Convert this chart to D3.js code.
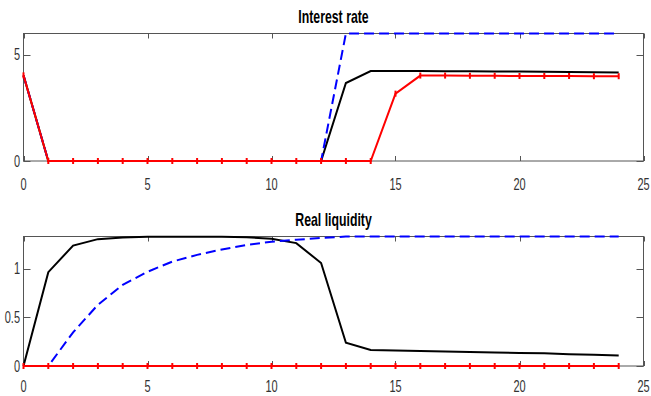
<!DOCTYPE html>
<html>
<head>
<meta charset="utf-8">
<script src="https://cdn.jsdelivr.net/npm/d3@7"></script>
<style>
  body { margin: 0; background: #fff; }
  text { font-family: "Liberation Sans Narrow", "Arial Narrow", "Liberation Sans", sans-serif; }
</style>
</head>
<body>
<svg class="chart" width="651" height="396"></svg>
<script>
const periods = d3.range(0, 25);

// Interest rate panel
const rateBlack = [4.03, 0, 0, 0, 0, 0, 0, 0, 0, 0, 0, 0, 0, 3.67, 4.23, 4.23, 4.23, 4.22, 4.22, 4.21, 4.21, 4.2, 4.19, 4.18, 4.17];
const rateBlue  = [4.03, 0, 0, 0, 0, 0, 0, 0, 0, 0, 0, 0, 0, 6, 6, 6, 6, 6, 6, 6, 6, 6, 6, 6, 6];
const rateRed   = [4.03, 0, 0, 0, 0, 0, 0, 0, 0, 0, 0, 0, 0, 0, 0, 3.17, 4.02, 4.02, 4.01, 4.01, 4.0, 4.0, 4.0, 3.99, 3.99];

// Real liquidity panel
const liqBlack = [0, 0.966, 1.24, 1.306, 1.323, 1.33, 1.332, 1.332, 1.33, 1.325, 1.31, 1.265, 1.06, 0.24, 0.165, 0.16, 0.155, 0.15, 0.145, 0.14, 0.135, 0.13, 0.122, 0.115, 0.108];
const liqBlue  = [0, 0, 0.347, 0.63, 0.835, 0.97, 1.075, 1.144, 1.2, 1.247, 1.28, 1.3, 1.318, 1.333, 1.333, 1.333, 1.333, 1.333, 1.333, 1.333, 1.333, 1.333, 1.333, 1.333, 1.333];
const liqRed   = [0, 0, 0, 0, 0, 0, 0, 0, 0, 0, 0, 0, 0, 0, 0, 0, 0, 0, 0, 0, 0, 0, 0, 0, 0];

const xTicks = [0, 5, 10, 15, 20, 25];

const panels = [
  {title: "Interest rate", top: 33.5, bottom: 161, domain: [0, 6], yTicks: [0, 5],
   black: rateBlack, blue: rateBlue, red: rateRed, titleY: 23, labelY: 190},
  {title: "Real liquidity", top: 236.5, bottom: 366, domain: [0, 1.3333], yTicks: [0, 0.5, 1],
   black: liqBlack, blue: liqBlue, red: liqRed, titleY: 226, labelY: 392}
];

const left = 23.5, right = 643.5;
const axisColor = "#555";
const svg = d3.select(".chart");

const x = d3.scaleLinear().domain([0, 25]).range([left, right]);

// stretched text, the picture is taller than wide
function label(g, px, py, str, anchor, opts) {
  const o = opts || {};
  return g.append('text')
    .attr('transform', `translate(${px},${py}) scale(1,${o.sy || 1.45})`)
    .attr('text-anchor', anchor)
    .style('font-size', (o.size || 11) + 'px')
    .style('font-weight', o.bold ? 'bold' : 'normal')
    .style('fill', o.fill || '#333')
    .text(str);
}

panels.forEach(p => {
  const g = svg.append('g');
  const y = d3.scaleLinear().domain(p.domain).range([p.bottom, p.top]);

  // box
  g.append('rect')
    .attr('x', left).attr('y', p.top)
    .attr('width', right - left).attr('height', p.bottom - p.top)
    .style('fill', 'none').style('stroke', axisColor).style('stroke-width', 1);

  // x ticks (inside, top and bottom)
  xTicks.forEach(t => {
    const px = Math.round(x(t)) + 0.5;
    g.append('line').attr('x1', px).attr('x2', px).attr('y1', p.bottom).attr('y2', p.bottom - 5)
      .style('stroke', axisColor);
    g.append('line').attr('x1', px).attr('x2', px).attr('y1', p.top).attr('y2', p.top + 5)
      .style('stroke', axisColor);
    label(g, x(t), p.labelY, String(t), 'middle');
  });

  // y ticks (inside, left and right)
  p.yTicks.forEach(t => {
    const py = Math.round(y(t)) + 0.5;
    g.append('line').attr('x1', left).attr('x2', left + 7).attr('y1', py).attr('y2', py)
      .style('stroke', axisColor);
    g.append('line').attr('x1', right).attr('x2', right - 7).attr('y1', py).attr('y2', py)
      .style('stroke', axisColor);
    label(g, 20, y(t) + 5.5, String(t), 'end');
  });

  // title
  label(g, (left + right) / 2, p.titleY, p.title, 'middle', {size: 12.3, bold: true, sy: 1.45, fill: '#000'});

  const line = d3.line().x((d, i) => x(periods[i])).y(d => y(d));

  g.append('path').datum(p.black).attr('d', line)
    .style('fill', 'none').style('stroke', '#000').style('stroke-width', 2);
  g.append('path').datum(p.blue).attr('d', line)
    .style('fill', 'none').style('stroke', '#0000ff').style('stroke-width', 2)
    .style('stroke-dasharray', '10,5');
  g.append('path').datum(p.red).attr('d', line)
    .style('fill', 'none').style('stroke', '#ff0000').style('stroke-width', 2);

  // red markers, small vertical ticks
  g.selectAll('.mark')
    .data(p.red)
    .enter().append('line')
    .attr('class', 'mark')
    .attr('x1', (d, i) => x(periods[i])).attr('x2', (d, i) => x(periods[i]))
    .attr('y1', d => y(d) - 3).attr('y2', d => y(d) + 3)
    .style('stroke', '#ff0000').style('stroke-width', 2);
});
</script>
</body>
</html>
